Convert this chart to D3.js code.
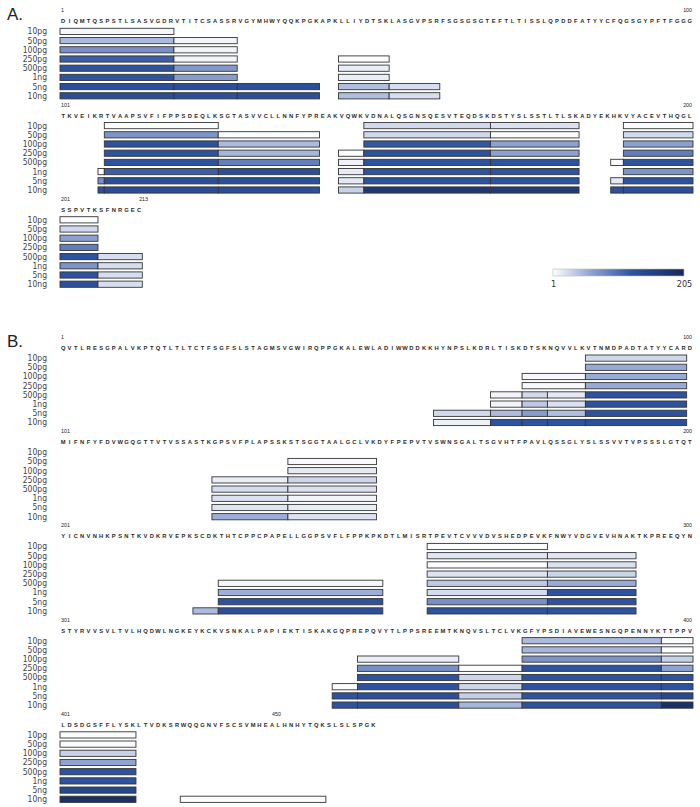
<!DOCTYPE html>
<html>
<head>
<meta charset="utf-8">
<script src="https://cdn.jsdelivr.net/npm/d3@7"></script>
<style>
  body { margin: 0; background: #fff; }
  svg { display: block; opacity: 0.999; }
</style>
</head>
<body>
<svg id="chart" width="700" height="807"></svg>
<script>
// sample loads (rows of every block)
var concentrations = ["10pg", "50pg", "100pg", "250pg", "500pg", "1ng", "5ng", "10ng"];

var lightSequence = "DIQMTQSPSTLSASVGDRVTITCSASSRVGYMHWYQQKPGKAPKLLIYDTSKLASGVPSRFSGSGSGTEFTLTISSLQPDDFATYYCFQGSGYPFTFGGG" +
  "TKVEIKRTVAAPSVFIFPPSDEQLKSGTASVVCLLNNFYPREAKVQWKVDNALQSGNSQESVTEQDSKDSTYSLSSTLTLSKADYEKHKVYACEVTHQGL" +
  "SSPVTKSFNRGEC";

var heavySequence = "QVTLRESGPALVKPTQTLTLTCTFSGFSLSTAGMSVGWIRQPPGKALEWLADIWWDDKKHYNPSLKDRLTISKDTSKNQVVLKVTNMDPADTATYYCARD" +
  "MIFNFYFDVWGQGTTVTVSSASTKGPSVFPLAPSSKSTSGGTAALGCLVKDYFPEPVTVSWNSGALTSGVHTFPAVLQSSGLYSLSSVVTVPSSSLGTQT" +
  "YICNVNHKPSNTKVDKRVEPKSCDKTHTCPPCPAPELLGGPSVFLFPPKPKDTLMISRTPEVTCVVVDVSHEDPEVKFNWYVDGVEVHNAKTKPREEQYN" +
  "STYRVVSVLTVLHQDWLNGKEYKCKVSNKALPAPIEKTISKAKGQPREPQVYTLPPSREEMTKNQVSLTCLVKGFYPSDIAVEWESNGQPENNYKTTPPV" +
  "LDSDGSFFLYSKLTVDKSRWQQGNVFSCSVMHEALHNHYTQKSLSLSPGK";

// peptide: first residue, last residue, intensity per load (null = not seen)
var lightPeptides = [
  { start: 1,   end: 18,  values: [6, 45, 75, 115, 125, 125, 130, 135] },
  { start: 19,  end: 28,  values: [null, 8, 8, 8, 68, 65, 130, 130] },
  { start: 29,  end: 41,  values: [null, null, null, null, null, null, 130, 130] },
  { start: 45,  end: 52,  values: [null, null, null, 3, 12, 12, 42, 42] },
  { start: 53,  end: 60,  values: [null, null, null, null, null, null, 22, 22] },
  { start: 107, end: 107, values: [null, null, null, null, null, 3, 75, 130] },
  { start: 108, end: 125, values: [3, 72, 125, 125, 125, 115, 130, 135] },
  { start: 126, end: 141, values: [null, 3, 45, 48, 88, 130, 130, 135] },
  { start: 145, end: 148, values: [null, null, null, 3, 10, 14, 15, 30] },
  { start: 149, end: 168, values: [25, 25, 120, 125, 125, 125, 125, 175] },
  { start: 169, end: 182, values: [20, 3, 62, 62, 125, 125, 125, 170] },
  { start: 188, end: 189, values: [null, null, null, null, 3, null, 15, 130] },
  { start: 190, end: 206, values: [3, 25, 62, 90, 125, 72, 125, 130] },
  { start: 207, end: 213, values: [null, null, null, null, 22, 22, 22, 22] }
];

var heavyPeptides = [
  { start: 60,  end: 68,  values: [null, null, null, null, null, null, 25, 10] },
  { start: 69,  end: 73,  values: [null, null, null, null, 8, 8, 45, 125] },
  { start: 74,  end: 83,  values: [null, null, 5, 5, null, null, null, null] },
  { start: 74,  end: 77,  values: [null, null, null, null, 25, 35, 65, 125] },
  { start: 78,  end: 83,  values: [null, null, null, null, 15, 20, 42, 125] },
  { start: 84,  end: 99,  values: [25, 55, 55, 55, 125, 125, 125, 130] },
  { start: 125, end: 136, values: [null, null, null, 12, 23, 20, 18, 52] },
  { start: 137, end: 150, values: [null, 5, 15, 27, 20, 8, 13, 20] },
  { start: 222, end: 225, values: [null, null, null, null, null, null, null, 45] },
  { start: 226, end: 251, values: [null, null, null, null, 6, 52, 125, 130] },
  { start: 259, end: 277, values: [3, 17, 3, 18, 35, 23, 75, 125] },
  { start: 278, end: 291, values: [null, 17, 20, 28, 55, 125, 125, 125] },
  { start: 344, end: 347, values: [null, null, null, null, null, 3, 125, 125] },
  { start: 348, end: 363, values: [null, null, 12, 75, 125, 125, 130, 130] },
  { start: 364, end: 373, values: [null, null, null, 3, 27, 27, 32, 48] },
  { start: 374, end: 395, values: [45, 48, 72, 125, 125, 125, 125, 125] },
  { start: 396, end: 412, values: [3, 3, 30, 60, 125, 125, 145, 190] },
  { start: 420, end: 442, values: [null, null, null, null, null, null, null, 3] }
];

var legendTicks = [1, 205];

// ---- layout ----
var svg = d3.select("#chart");
svg.append("rect").attr("width", 700).attr("height", 807).attr("fill", "#fff");

var perRow = 100;
var rowStep = 94.2;
var labelFont = "'Liberation Sans Narrow', 'DejaVu Sans Condensed', 'Liberation Sans', sans-serif";
var seqFont = "'Liberation Sans', Arial, sans-serif";

var x = d3.scaleLinear().domain([0, perRow]).range([60, 693]);
var y = d3.scaleBand().domain(concentrations).range([0, 70.6]).paddingInner(0.326);

var color = d3.scaleLinear()
  .domain([1, 60, 125, 205])
  .range(["#ffffff", "#8ea3d2", "#2d529e", "#16295a"]);

function drawPanel(letter, seq, peptides, top, lastLabelAt) {
  var panel = svg.append("g").attr("transform", "translate(0," + top + ")");
  var nRows = Math.ceil(seq.length / perRow);

  panel.append("text")
    .attr("x", 7).attr("y", -8)
    .attr("font-family", seqFont).attr("font-size", 17).attr("fill", "#222")
    .text(letter + ".");

  for (var r = 0; r < nRows; r++) {
    var first = r * perRow + 1;
    var last = Math.min((r + 1) * perRow, seq.length);
    var row = panel.append("g").attr("transform", "translate(0," + (r * rowStep) + ")");

    // residue numbers
    row.append("text")
      .attr("x", x(0) + 1).attr("y", -16)
      .attr("font-family", seqFont).attr("font-size", 5.3).attr("fill", "#222")
      .text(first);
    var endLbl = row.append("text")
      .attr("y", -16)
      .attr("font-family", seqFont).attr("font-size", 5.3).attr("fill", "#222")
      .text(last);
    if (last - first + 1 === perRow) {
      endLbl.attr("x", x(perRow) - 1).attr("text-anchor", "end");
    } else {
      endLbl.attr("x", x(lastLabelAt - 0.5)).attr("text-anchor", "start");
    }

    // sequence letters
    row.selectAll("text.res")
      .data(seq.slice(first - 1, last).split(""))
      .join("text")
      .attr("class", "res")
      .attr("x", function(d, i) { return x(i + 0.5); })
      .attr("y", -5)
      .attr("text-anchor", "middle")
      .attr("font-family", seqFont).attr("font-size", 5.8).attr("font-weight", "bold")
      .attr("fill", "#2a2a2a")
      .text(function(d) { return d; });

    // load labels
    row.selectAll("text.conc")
      .data(concentrations)
      .join("text")
      .attr("class", "conc")
      .attr("x", 47)
      .attr("y", function(d) { return y(d) + y.bandwidth() / 2; })
      .attr("dy", "0.35em")
      .attr("text-anchor", "end")
      .attr("font-family", labelFont).attr("font-size", 8.5)
      .attr("fill", "#444")
      .text(function(d) { return d; });

    // peptide bars clipped to this row
    var cells = [];
    peptides.forEach(function(p) {
      if (p.end < first || p.start > last) return;
      var s = Math.max(p.start, first) - first;
      var e = Math.min(p.end, last) - first + 1;
      p.values.forEach(function(v, k) {
        if (v == null) return;
        cells.push({ s: s, e: e, conc: concentrations[k], v: v });
      });
    });

    row.selectAll("rect.pep")
      .data(cells)
      .join("rect")
      .attr("class", "pep")
      .attr("x", function(d) { return x(d.s); })
      .attr("width", function(d) { return x(d.e) - x(d.s); })
      .attr("y", function(d) { return y(d.conc); })
      .attr("height", y.bandwidth())
      .attr("fill", function(d) { return color(d.v); })
      .attr("stroke", "#363636")
      .attr("stroke-width", 0.9);
  }
}

drawPanel("A", lightSequence, lightPeptides, 28.3, 13);
drawPanel("B", heavySequence, heavyPeptides, 355, 34);

// colour key
var defs = svg.append("defs");
var grad = defs.append("linearGradient").attr("id", "key");
d3.range(0, 1.0001, 0.1).forEach(function(t) {
  grad.append("stop")
    .attr("offset", (t * 100) + "%")
    .attr("stop-color", color(1 + t * 204));
});

var keyScale = d3.scaleLinear().domain(legendTicks).range([553, 684]);
svg.append("rect")
  .attr("x", keyScale(1)).attr("y", 269)
  .attr("width", keyScale(205) - keyScale(1)).attr("height", 7)
  .attr("fill", "url(#key)")
  .attr("stroke", "#bbb").attr("stroke-width", 0.6);

var keyAxis = svg.append("g")
  .attr("transform", "translate(0,279)")
  .call(d3.axisBottom(keyScale).tickValues(legendTicks).tickSize(0).tickPadding(2));
keyAxis.select(".domain").remove();
keyAxis.selectAll("text")
  .attr("font-family", labelFont).attr("font-size", 9).attr("fill", "#333");
</script>
</body>
</html>
